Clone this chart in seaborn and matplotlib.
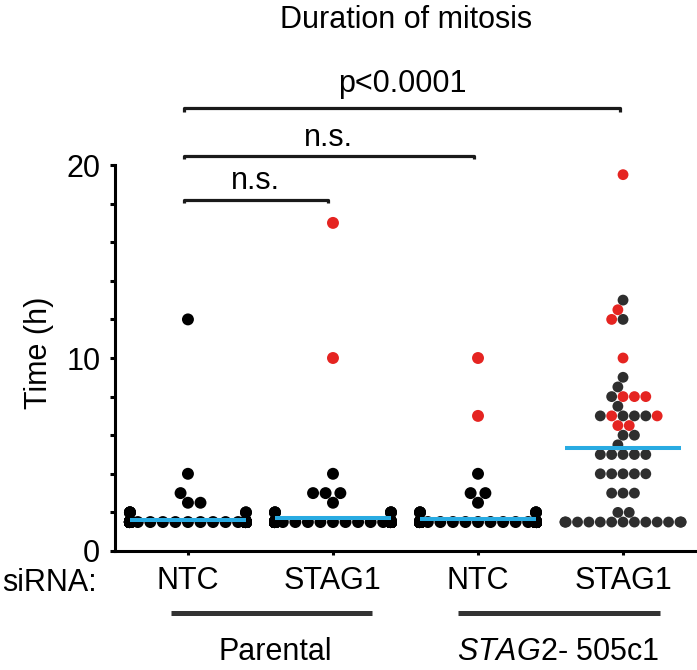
import warnings
import numpy as np
import pandas as pd
import matplotlib
matplotlib.use('Agg')
import matplotlib.pyplot as plt
import seaborn as sns
from matplotlib import transforms

warnings.filterwarnings('ignore')

# groups in plotting order
groups = ['Parental NTC', 'Parental STAG1', 'STAG2 NTC', 'STAG2 STAG1']
tick_labels = ['NTC', 'STAG1', 'NTC', 'STAG1']

# time of mitosis (h); bottom rows are estimated counts
par_ntc_black = [12, 4, 3, 2.5, 2.5] + [2.0] * 6 + [1.5] * 150
par_ntc_red = []
par_stag1_black = [4, 3, 3, 3, 2.5] + [2.0] * 6 + [1.5] * 150
par_stag1_red = [17, 10]
mut_ntc_black = [4, 3, 3, 2.5] + [2.0] * 6 + [1.5] * 150
mut_ntc_red = [10, 7]
mut_stag1_black = ([13, 12, 9, 8.5, 8, 7.5, 7, 7, 7, 7, 6, 6, 5.5]
                   + [5] * 5 + [4] * 5 + [3] * 3 + [2] * 2 + [1.5] * 15)
mut_stag1_red = [19.5, 12.5, 12, 10, 8, 8, 8, 7, 7, 6.5, 6.5]

black_sets = [par_ntc_black, par_stag1_black, mut_ntc_black, mut_stag1_black]
red_sets = [par_ntc_red, par_stag1_red, mut_ntc_red, mut_stag1_red]

rows = []
for g, blk, red in zip(groups, black_sets, red_sets):
    for v in blk:
        rows.append((g, v, 'black'))
    for v in red:
        rows.append((g, v, 'red'))
df = pd.DataFrame(rows, columns=['group', 'time', 'kind'])

sns.set_style('ticks')
plt.rcParams['font.family'] = ['Liberation Sans', 'DejaVu Sans']
plt.rcParams['mathtext.fontset'] = 'custom'
plt.rcParams['mathtext.rm'] = 'Liberation Sans'
plt.rcParams['mathtext.it'] = 'Liberation Sans:italic'
plt.rcParams['text.color'] = 'black'
plt.rcParams['xtick.color'] = 'black'
plt.rcParams['ytick.color'] = 'black'
plt.rcParams['axes.labelcolor'] = 'black'

RED = '#e52421'
BLUE = '#29abe2'

fig = plt.figure(figsize=(6.97, 6.7), dpi=100)
ax = fig.add_axes([115 / 697, 119 / 670, 582 / 697, 452 / 670])

# parental + STAG2 NTC swarms (larger dots)
sns.swarmplot(data=df[df['group'] != groups[3]], x='group', y='time', hue='kind',
              order=groups, palette={'black': '#000000', 'red': RED},
              size=8.6, legend=False, ax=ax, zorder=3)
# STAG2 STAG1 swarm
sns.swarmplot(data=df[df['group'] == groups[3]], x='group', y='time', hue='kind',
              order=groups, palette={'black': '#2e2e2e', 'red': RED},
              size=7.8, legend=False, ax=ax, zorder=3)

# mean lines on top of the dots
means = df.groupby('group')['time'].mean().reindex(groups)
ax.hlines(means.values, np.arange(4) - 0.4, np.arange(4) + 0.4,
          color=BLUE, lw=2.9, zorder=4)

ax.set_xlim(-0.503, 3.51)
ax.set_ylim(0, 23.42)
ax.set_xticks(range(4))
ax.set_xticklabels(tick_labels)
ax.set_yticks(np.arange(0, 21, 2))
ax.set_yticklabels(['0', '', '', '', '', '10', '', '', '', '', '20'])
ax.set_xlabel('')
ax.set_ylabel('')

for s in ['top', 'right']:
    ax.spines[s].set_visible(False)
ax.spines['left'].set_bounds(0, 20)
ax.spines['left'].set_linewidth(2.2)
ax.spines['bottom'].set_linewidth(2.2)
ax.spines['left'].set_color('black')
ax.spines['bottom'].set_color('black')
ax.tick_params(axis='y', length=3.6, width=2.2, labelsize=22, pad=7,
               color='black', labelcolor='black')
ax.tick_params(axis='x', length=3, width=2.2, labelsize=22, pad=8,
               color='black', labelcolor='black')

# significance brackets
def bracket(x0, x1, y, label, ty):
    ax.plot([x0, x0, x1, x1], [y - 0.17, y, y, y - 0.17], color='#1a1a1a',
            lw=2.3, clip_on=False, solid_capstyle='butt')
    ax.text((x0 + x1) / 2, ty, label, ha='center', va='baseline', fontsize=22)

bracket(-0.03, 2.98, 22.94, 'p<0.0001', 23.80)
bracket(-0.03, 1.97, 20.48, 'n.s.', 20.98)
bracket(-0.03, 0.966, 18.19, 'n.s.', 18.74)

fig.text(406 / 697, 1 - 28 / 670, 'Duration of mitosis', ha='center',
         va='baseline', fontsize=22)
fig.text(39 / 697, 1 - 353 / 670, 'Time (h)', rotation=90, ha='center',
         va='center', fontsize=22)
fig.text(2 / 697, 1 - 591 / 670, 'siRNA:', ha='left', va='baseline', fontsize=22)

# cell line group bars and labels
tr = transforms.blended_transform_factory(ax.transData, fig.transFigure)
ax.plot([-0.117, 1.269], [1 - 612.7 / 670] * 2, color='#333333', lw=3.6,
        transform=tr, clip_on=False, solid_capstyle='butt')
ax.plot([1.862, 3.255], [1 - 612.7 / 670] * 2, color='#333333', lw=3.6,
        transform=tr, clip_on=False, solid_capstyle='butt')
ax.text(0.6, 1 - 660 / 670, 'Parental', transform=tr, ha='center',
        va='baseline', fontsize=22)
ax.text(2.555, 1 - 660 / 670, r'$\mathit{STAG2}$- 505c1', transform=tr,
        ha='center', va='baseline', fontsize=22)

fig.savefig('out.png', dpi=100)
